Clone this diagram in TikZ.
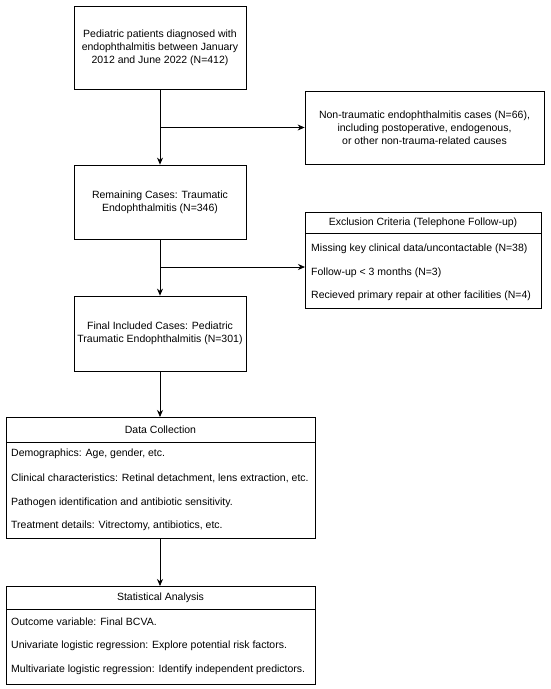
\documentclass[tikz,border=0pt]{standalone}
\usepackage{fontspec}
\setmainfont{Liberation Sans}
\usetikzlibrary{arrows.meta}
\begin{document}
\begin{tikzpicture}[x=1pt,y=-1pt,
  box/.style={draw, line width=0.8pt, align=center, inner sep=0pt},
  frame/.style={draw, line width=0.8pt, inner sep=0pt, anchor=north west},
  txt/.style={anchor=west, inner sep=0pt},
  hdr/.style={inner sep=0pt},
  arr/.style={-{Stealth[length=7pt,width=6pt]}, line width=0.8pt},
  ln/.style={line width=0.8pt},
  font=\fontsize{10.5}{13}\selectfont]
\useasboundingbox (0,0) rectangle (550,689);
% main boxes
\node[box, minimum width=172pt, minimum height=83pt] (b1) at (160,47.5)
  {Pediatric patients diagnosed with\\endophthalmitis between January\\2012 and June 2022 (N=412)};
\node[box, minimum width=239pt, minimum height=73pt] (b2) at (424.5,127.5)
  {Non-traumatic endophthalmitis cases (N=66),\\including postoperative, endogenous,\\or other non-trauma-related causes};
\node[box, minimum width=172pt, minimum height=74pt] (b3) at (160,202)
  {Remaining Cases: Traumatic\\Endophthalmitis (N=346)};
\node[box, minimum width=172pt, minimum height=75pt] (b4) at (160,333.5)
  {Final Included Cases: Pediatric\\Traumatic Endophthalmitis (N=301)};
% exclusion box
\node[frame, minimum width=236pt, minimum height=96pt] (ex) at (305,212) {};
\node[hdr] (exh) at (423,222.5) {Exclusion Criteria (Telephone Follow-up)};
\draw[ln] (305,233) -- (541,233);
\node[txt] (ex1) at (311,249) {Missing key clinical data/uncontactable (N=38)};
\node[txt] (ex2) at (311,272.5) {Follow-up < 3 months (N=3)};
\node[txt] (ex3) at (311,296) {Recieved primary repair at other facilities (N=4)};
% data collection
\node[frame, minimum width=309pt, minimum height=121pt] (dc) at (6,417) {};
\node[hdr] (dch) at (160.5,429.5) {Data Collection};
\draw[ln] (6,442) -- (315,442);
\node[txt] (dc1) at (11,454) {Demographics: Age, gender, etc.};
\node[txt] (dc2) at (11,478.5) {Clinical characteristics: Retinal detachment, lens extraction, etc.};
\node[txt] (dc3) at (11,502.5) {Pathogen identification and antibiotic sensitivity.};
\node[txt] (dc4) at (11,526) {Treatment details: Vitrectomy, antibiotics, etc.};
% statistical analysis
\node[frame, minimum width=309pt, minimum height=98pt] (sa) at (6,586) {};
\node[hdr] (sah) at (160.5,597.5) {Statistical Analysis};
\draw[ln] (6,609) -- (315,609);
\node[txt] (sa1) at (11,622) {Outcome variable: Final BCVA.};
\node[txt] (sa2) at (11,646) {Univariate logistic regression: Explore potential risk factors.};
\node[txt] (sa3) at (11,669.5) {Multivariate logistic regression: Identify independent predictors.};
% connectors
\coordinate (j1) at (160,127.5);
\coordinate (j2) at (160,267);
\draw[arr] (b1.south) -- (b3.north);
\draw[arr] (j1) -- (b2.west);
\draw[arr] (b3.south) -- (b4.north);
\draw[arr] (j2) -- (j2 -| ex.west);
\draw[arr] (b4.south) -- (b4.south |- dc.north);
\draw[arr] (dc.south -| b4.south) -- (sa.north -| b4.south);
\end{tikzpicture}
\end{document}
